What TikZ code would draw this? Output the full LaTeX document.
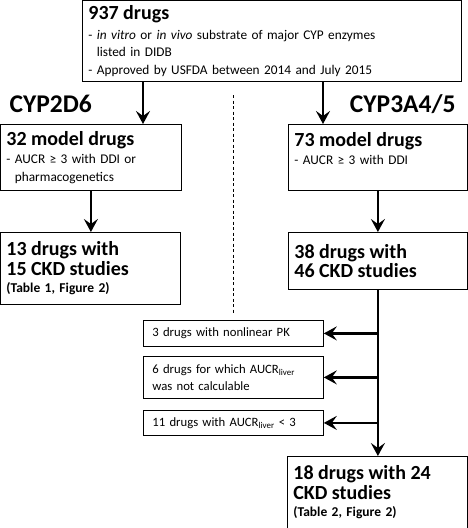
\documentclass[tikz,border=0pt]{standalone}
\usepackage{fontspec}
\setmainfont{Carlito}
\usetikzlibrary{arrows.meta}
\newcommand{\ttl}[1]{{\fontsize{20}{22}\selectfont\bfseries #1}}
\newcommand{\refs}[1]{{\fontsize{13.5}{16}\selectfont\bfseries #1}}
\begin{document}
\begin{tikzpicture}[
    x=1pt, y=-1pt,
    box/.style={draw, line width=0.8pt, anchor=north west, align=left, inner xsep=6pt, inner ysep=0pt, font=\fontsize{13.3}{17.5}\selectfont},
    side/.style={box, minimum width=180pt, text width=162pt, inner xsep=9pt, font=\fontsize{12.7}{16.5}\selectfont},
    arr/.style={line width=2.5pt, -{Stealth[length=13pt, width=14pt, inset=5pt]}},
    head/.style={font=\fontsize{25.5}{27}\selectfont\bfseries, anchor=base west},
    sep/.style={line width=0.8pt, dash pattern=on 3pt off 2.5pt},
]
\useasboundingbox (0,0) rectangle (467,528);
% first selection
\node[box, minimum width=379pt, minimum height=81pt, text width=367pt] (top) at (82,0)
    {\ttl{937 drugs}\\[2pt]
     - \textit{in vitro} or \textit{in vivo} substrate of major CYP enzymes\\
     \hphantom{- }listed in DIDB\\
     - Approved by USFDA between 2014 and July 2015};
\node[head] (h2d6) at (6,112) {CYP2D6};
\node[head, anchor=base east] (h3a4) at (459,112) {CYP3A4/5};
% CYP2D6 branch
\node[box, minimum width=181pt, minimum height=66pt, text width=169pt] (l2) at (0,124)
    {\ttl{32 model drugs}\\[1pt]
     - AUCR ≥ 3 with DDI or\\
     \hphantom{- }pharmacogenetics};
\node[box, minimum width=180pt, minimum height=72pt, text width=168pt] (l3) at (0,232)
    {\ttl{13 drugs with}\\[2pt]
     \ttl{15 CKD studies}\\
     \refs{(Table 1, Figure 2)}};
% CYP3A4/5 branch
\node[box, minimum width=179pt, minimum height=66pt, text width=167pt] (r2) at (288,124)
    {\ttl{73 model drugs}\\[1pt]
     - AUCR ≥ 3 with DDI\\
     \mbox{}};
\node[box, minimum width=179pt, minimum height=57pt, text width=167pt] (r3) at (288,232)
    {\ttl{38 drugs with}\\[2pt]
     \ttl{46 CKD studies}};
\node[side, minimum height=26pt] (x1) at (143,320) {3 drugs with nonlinear PK};
\node[side, minimum height=42pt] (x2) at (143,356)
    {6 drugs for which AUCR\textsubscript{liver}\\ was not calculable};
\node[side, minimum height=25pt] (x3) at (143,410) {11 drugs with AUCR\textsubscript{liver} < 3};
\node[box, minimum width=180pt, minimum height=72pt, text width=168pt] (r4) at (287,456)
    {\ttl{18 drugs with 24}\\[2pt]
     \ttl{CKD studies}\\
     \refs{(Table 2, Figure 2)}};
% arrows
\coordinate (c2d6) at (143,0);
\coordinate (c3a4) at (323,0);
\draw[arr] (top.south -| c2d6) -- (l2.north -| c2d6);
\draw[arr] (top.south -| c3a4) -- (r2.north -| c3a4);
\draw[arr] (l2.south) -- (l2.south |- l3.north);
\draw[arr] (r2.south) -- (r2.south |- r3.north);
\draw[arr] (r3.south) -- (r3.south |- r4.north);
\foreach \x in {x1,x2,x3}
    \draw[arr] (\x.east -| r3.south) -- (\x.east);
% divider
\coordinate (d1) at (233,95);
\coordinate (d2) at (233,313);
\draw[sep] (d1) -- (d2);
\end{tikzpicture}
\end{document}
